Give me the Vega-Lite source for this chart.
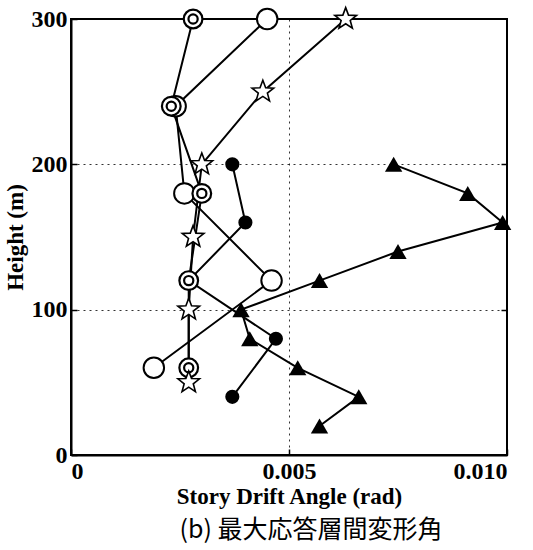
{
  "$schema": "https://vega.github.io/schema/vega-lite/v6.json",
  "width": 436,
  "height": 436,
  "autosize": {"type": "none"},
  "padding": {"left": 71, "top": 19, "right": 26, "bottom": 95},
  "background": "white",
  "title": {
    "text": "(b) 最大応答層間変形角",
    "orient": "bottom",
    "anchor": "middle",
    "font": "Noto Sans CJK JP",
    "fontSize": 25,
    "fontWeight": "normal",
    "color": "black",
    "offset": 10,
    "dx": 22
  },
  "data": {
    "values": [
      {"s": "dc", "x": 0.0028, "y": 300},
      {"s": "dc", "x": 0.0023, "y": 240},
      {"s": "dc", "x": 0.0030, "y": 180},
      {"s": "dc", "x": 0.0027, "y": 120},
      {"s": "dc", "x": 0.0027, "y": 60},
      {"s": "oc", "x": 0.0045, "y": 300},
      {"s": "oc", "x": 0.0024, "y": 240},
      {"s": "oc", "x": 0.0026, "y": 180},
      {"s": "oc", "x": 0.0046, "y": 120},
      {"s": "oc", "x": 0.0019, "y": 60},
      {"s": "st", "x": 0.0063, "y": 300},
      {"s": "st", "x": 0.0044, "y": 250},
      {"s": "st", "x": 0.0030, "y": 200},
      {"s": "st", "x": 0.0028, "y": 150},
      {"s": "st", "x": 0.0027, "y": 100},
      {"s": "st", "x": 0.0027, "y": 50},
      {"s": "fc", "x": 0.0037, "y": 200},
      {"s": "fc", "x": 0.0040, "y": 160},
      {"s": "fc", "x": 0.0027, "y": 120},
      {"s": "fc", "x": 0.0047, "y": 80},
      {"s": "fc", "x": 0.0037, "y": 40},
      {"s": "tr", "x": 0.0074, "y": 200},
      {"s": "tr", "x": 0.0091, "y": 180},
      {"s": "tr", "x": 0.0099, "y": 160},
      {"s": "tr", "x": 0.0075, "y": 140},
      {"s": "tr", "x": 0.0057, "y": 120},
      {"s": "tr", "x": 0.0039, "y": 100},
      {"s": "tr", "x": 0.0041, "y": 80},
      {"s": "tr", "x": 0.0052, "y": 60},
      {"s": "tr", "x": 0.0066, "y": 40},
      {"s": "tr", "x": 0.0057, "y": 20}
    ]
  },
  "resolve": {"axis": {"y": "independent"}},
  "layer": [
    {
      "mark": {"type": "line", "color": "black", "strokeWidth": 2},
      "encoding": {
        "x": {
          "field": "x",
          "type": "quantitative",
          "scale": {"domain": [0, 0.01], "nice": false, "zero": true},
          "axis": {
            "values": [0, 0.005, 0.01],
            "labelExpr": "datum.value == 0 ? '0' : format(datum.value, '.3f')",
            "title": "Story Drift Angle (rad)",
            "grid": true,
            "labelPadding": 10,
            "titlePadding": 2
          }
        },
        "y": {
          "field": "y",
          "type": "quantitative",
          "scale": {"domain": [0, 300], "nice": false},
          "axis": {
            "values": [0, 100, 200, 300],
            "title": "Height (m)",
            "grid": true,
            "labelPadding": 10,
            "titlePadding": 4
          }
        },
        "detail": {"field": "s"},
        "order": {"field": "y", "type": "quantitative"}
      }
    },
    {
      "transform": [{"filter": "datum.s == 'tr'"}],
      "mark": {"type": "point", "shape": "triangle-up", "filled": true, "color": "black", "size": 300, "opacity": 1},
      "encoding": {
        "x": {"field": "x", "type": "quantitative"},
        "y": {
          "field": "y",
          "type": "quantitative",
          "axis": {"orient": "right", "values": [100, 200], "labels": false, "title": null, "grid": false, "domain": false}
        }
      }
    },
    {
      "transform": [{"filter": "datum.s == 'fc'"}],
      "mark": {"type": "point", "shape": "circle", "filled": true, "color": "black", "size": 200, "opacity": 1},
      "encoding": {"x": {"field": "x", "type": "quantitative"}, "y": {"field": "y", "type": "quantitative", "axis": null}}
    },
    {
      "transform": [{"filter": "datum.s == 'oc'"}],
      "mark": {"type": "point", "shape": "circle", "fill": "white", "stroke": "black", "strokeWidth": 2, "size": 420, "opacity": 1, "fillOpacity": 1},
      "encoding": {"x": {"field": "x", "type": "quantitative"}, "y": {"field": "y", "type": "quantitative", "axis": null}}
    },
    {
      "transform": [{"filter": "datum.s == 'dc'"}],
      "mark": {"type": "point", "shape": "circle", "fill": "white", "stroke": "black", "strokeWidth": 2.2, "size": 350, "opacity": 1, "fillOpacity": 1},
      "encoding": {"x": {"field": "x", "type": "quantitative"}, "y": {"field": "y", "type": "quantitative", "axis": null}}
    },
    {
      "transform": [{"filter": "datum.s == 'dc'"}],
      "mark": {"type": "point", "shape": "circle", "fill": "white", "stroke": "black", "strokeWidth": 2.2, "size": 85, "opacity": 1, "fillOpacity": 1},
      "encoding": {"x": {"field": "x", "type": "quantitative"}, "y": {"field": "y", "type": "quantitative", "axis": null}}
    },
    {
      "transform": [{"filter": "datum.s == 'st'"}],
      "mark": {
        "type": "point",
        "shape": "M0,-1L0.247,-0.34L0.951,-0.309L0.399,0.13L0.588,0.809L0,0.42L-0.588,0.809L-0.399,0.13L-0.951,-0.309L-0.247,-0.34Z",
        "fill": "white",
        "stroke": "black",
        "strokeWidth": 1.6,
        "size": 520,
        "opacity": 1,
        "fillOpacity": 1
      },
      "encoding": {"x": {"field": "x", "type": "quantitative"}, "y": {"field": "y", "type": "quantitative", "axis": null}}
    }
  ],
  "config": {
    "view": {"stroke": "black", "strokeWidth": 2},
    "axis": {
      "labelFont": "Liberation Serif",
      "labelFontWeight": "bold",
      "labelFontSize": 24,
      "labelColor": "black",
      "titleFont": "Liberation Serif",
      "titleFontWeight": "bold",
      "titleFontSize": 23,
      "titleColor": "black",
      "domainColor": "black",
      "domainWidth": 2,
      "tickColor": "black",
      "tickWidth": 1.5,
      "tickSize": -6,
      "gridColor": "black",
      "gridDash": [2, 4],
      "gridWidth": 1,
      "gridOpacity": 0.8
    }
  }
}
